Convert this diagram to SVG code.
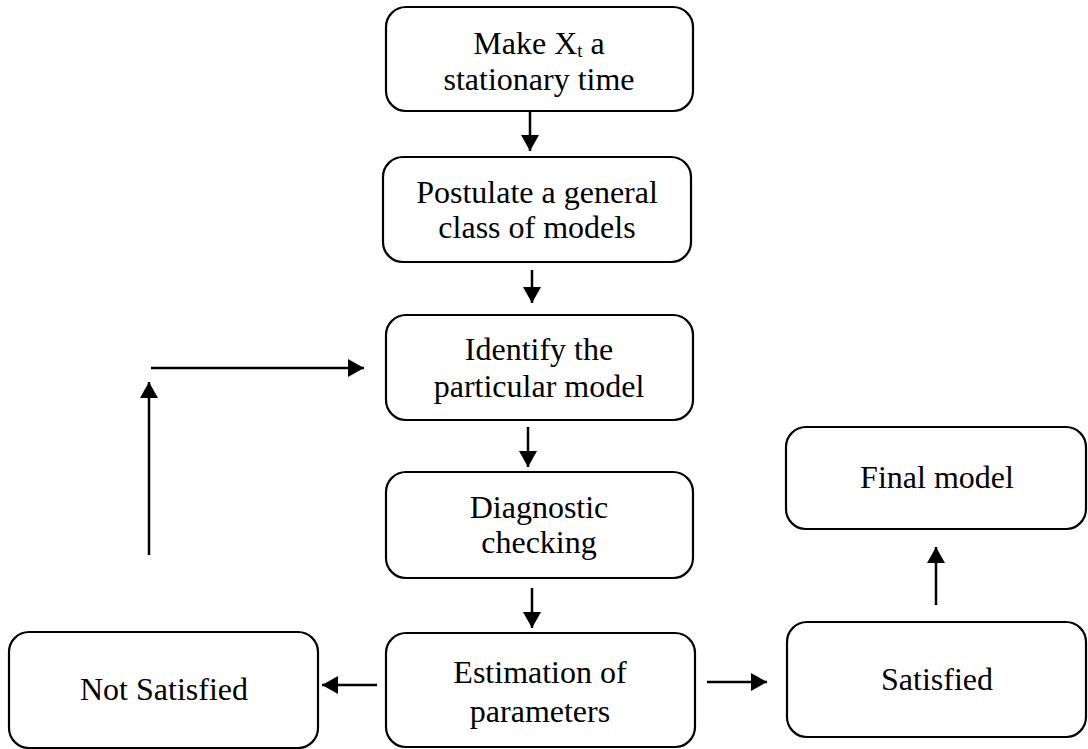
<svg xmlns="http://www.w3.org/2000/svg" width="1088" height="749" viewBox="0 0 1088 749">
<style>
.box{fill:#fff;stroke:#000;stroke-width:2.2}
.t{font-family:"Liberation Serif","Times New Roman",serif;font-size:32px;fill:#000;text-anchor:middle}
.c{stroke:#000;stroke-width:2.5;fill:none}
</style>
<defs>
<marker id="ah" markerUnits="userSpaceOnUse" markerWidth="18" markerHeight="20" refX="16" refY="9" orient="auto">
<path d="M0,0 L16,9 L0,18 Z" fill="#000"/>
</marker>
</defs>
<rect width="1088" height="749" fill="#fff"/>
<g id="n1"><rect class="box" x="386" y="7" width="307" height="104" rx="20"/>
<text class="t" x="539" y="54">Make X<tspan font-size="19" baseline-shift="-3">t</tspan> a</text>
<text class="t" x="539" y="90">stationary time</text></g>
<g id="n2"><rect class="box" x="383" y="157" width="308" height="105" rx="20"/>
<text class="t" x="537" y="203">Postulate a general</text>
<text class="t" x="537" y="238">class of models</text></g>
<g id="n3"><rect class="box" x="386" y="315" width="307" height="105" rx="20"/>
<text class="t" x="539" y="360">Identify the</text>
<text class="t" x="539" y="397">particular model</text></g>
<g id="n4"><rect class="box" x="386" y="472" width="307" height="106" rx="20"/>
<text class="t" x="539" y="518">Diagnostic</text>
<text class="t" x="539" y="553">checking</text></g>
<g id="n5"><rect class="box" x="386" y="633" width="309" height="114" rx="20"/>
<text class="t" x="540" y="683">Estimation of</text>
<text class="t" x="540" y="722">parameters</text></g>
<g id="n6"><rect class="box" x="9" y="632" width="309" height="116" rx="20"/>
<text class="t" x="164" y="700">Not Satisfied</text></g>
<g id="n7"><rect class="box" x="787" y="622" width="299" height="115" rx="20"/>
<text class="t" x="937" y="690">Satisfied</text></g>
<g id="n8"><rect class="box" x="786" y="427" width="300" height="102" rx="20"/>
<text class="t" x="937" y="488">Final model</text></g>
<g id="connectors">
<line class="c" x1="530" y1="112" x2="530" y2="151" marker-end="url(#ah)"/>
<line class="c" x1="532" y1="270" x2="532" y2="303" marker-end="url(#ah)"/>
<line class="c" x1="528" y1="427" x2="528" y2="467" marker-end="url(#ah)"/>
<line class="c" x1="532" y1="588" x2="532" y2="628" marker-end="url(#ah)"/>
<line class="c" x1="377" y1="685" x2="322" y2="685" marker-end="url(#ah)"/>
<line class="c" x1="707" y1="682" x2="767" y2="682" marker-end="url(#ah)"/>
<line class="c" x1="936" y1="605" x2="936" y2="547" marker-end="url(#ah)"/>
<line class="c" x1="149" y1="555" x2="149" y2="382" marker-end="url(#ah)"/>
<line class="c" x1="151" y1="368" x2="364" y2="368" marker-end="url(#ah)"/>
</g>
</svg>
